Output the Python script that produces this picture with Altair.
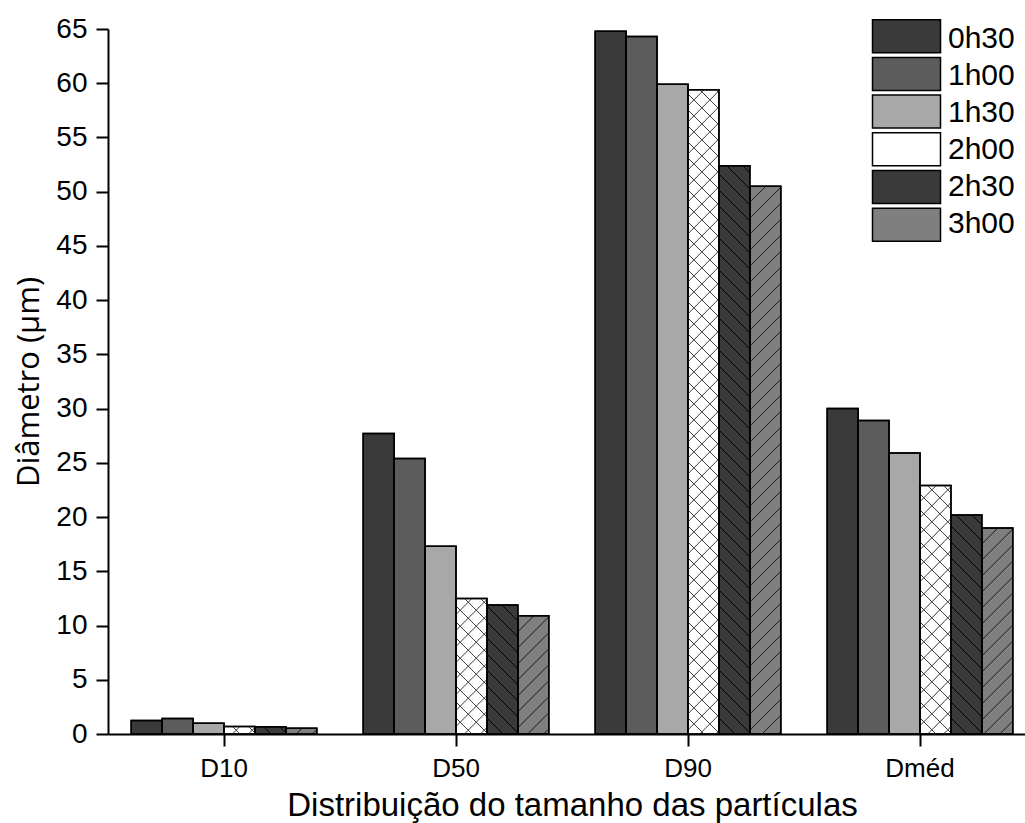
import altair as alt
import pandas as pd

# ---------------- data ----------------
categories = ["D10", "D50", "D90", "Dméd"]
series = ["0h30", "1h00", "1h30", "2h00", "2h30", "3h00"]
v_0h30 = [1.24, 27.7, 64.8, 30.0]
v_1h00 = [1.44, 25.4, 64.3, 28.9]
v_1h30 = [0.98, 17.3, 59.9, 25.9]
v_2h00 = [0.70, 12.5, 59.4, 22.9]
v_2h30 = [0.67, 11.9, 52.4, 20.2]
v_3h00 = [0.52, 10.9, 50.5, 19.0]
y_ticks = list(range(0, 70, 5))

# ---------------- styles ----------------
fills = ["#3a3a3a", "#5c5c5c", "#a8a8a8", "#ffffff", "#3a3a3a", "#7f7f7f"]
hatch_dirs = {"2h00": ["/", "\\"], "2h30": ["\\"], "3h00": ["/"]}
hatch_colors = {"2h00": "#3c3c3c", "2h30": "#000000", "3h00": "#1a1a1a"}

PLOT_W = 928      # x range of the band scale (overflows the window like the reference)
PLOT_H = 705
Y_MAX = 65
PAD_IN, PAD_OUT = 0.2, 0.1
FONT = "Liberation Sans"

values = [v_0h30, v_1h00, v_1h30, v_2h00, v_2h30, v_3h00]
rows = []
for s, vals in zip(series, values):
    for c, v in zip(categories, vals):
        rows.append({"category": c, "series": s, "value": v})
df = pd.DataFrame(rows)

# ---------------- hatch geometry (derived from the values via the band layout) ----------------
n = len(categories)
step = PLOT_W / (n - PAD_IN + 2 * PAD_OUT)
start = PAD_OUT * step
sub = step * (1 - PAD_IN) / len(series)
px_per_unit = PLOT_H / Y_MAX
SP = 16.0
hrows = []
for si, (s, vals) in enumerate(zip(series, values)):
    if s not in hatch_dirs:
        continue
    for ci, v in enumerate(vals):
        X0 = start + ci * step + si * sub
        X1 = X0 + sub
        H = v * px_per_unit
        for d in hatch_dirs[s]:
            if d == "/":
                c = X0 - H
                while c < X1:
                    xa, xb = max(X0, c), min(X1, c + H)
                    if xb - xa > 0.5:
                        hrows.append({"series": s, "x0": xa / step, "x1": xb / step,
                                      "y0": (xa - c) / px_per_unit, "y1": (xb - c) / px_per_unit})
                    c += SP
            else:
                c = X0
                while c < X1 + H:
                    xa, xb = max(X0, c - H), min(X1, c)
                    if xb - xa > 0.5:
                        hrows.append({"series": s, "x0": xa / step, "x1": xb / step,
                                      "y0": (c - xa) / px_per_unit, "y1": (c - xb) / px_per_unit})
                    c += SP
hdf = pd.DataFrame(hrows)

# ---------------- chart ----------------
x_scale = alt.Scale(domain=categories, range=[0, PLOT_W], paddingInner=PAD_IN, paddingOuter=PAD_OUT)
xo_scale = alt.Scale(domain=series, paddingInner=0, paddingOuter=0)
y_scale = alt.Scale(domain=[0, Y_MAX], nice=False, zero=True)

bars = alt.Chart(df).mark_bar(stroke="black", strokeWidth=1.5).encode(
    x=alt.X("category:N", scale=x_scale, sort=categories,
            axis=alt.Axis(title="Distribuição do tamanho das partículas", labelAngle=0,
                          labelFontSize=26, labelFont=FONT, labelColor="black", labelPadding=9,
                          tickSize=12, tickWidth=2, tickColor="black",
                          domainWidth=2, domainColor="black",
                          titleFont=FONT, titleFontSize=33, titleFontWeight="normal",
                          titleColor="black", titleBaseline="alphabetic", titleY=81)),
    xOffset=alt.XOffset("series:N", scale=xo_scale, sort=series),
    y=alt.Y("value:Q", scale=y_scale,
            axis=alt.Axis(values=y_ticks, title="Diâmetro (µm)", grid=False,
                          labelFontSize=28, labelFont=FONT, labelColor="black", labelPadding=9,
                          tickSize=12, tickWidth=2, tickColor="black",
                          domainWidth=2, domainColor="black",
                          titleFont="Open Sans", titleFontSize=31, titleFontWeight="normal",
                          titleColor="black", titleBaseline="alphabetic", titleX=-70)),
    fill=alt.Fill("series:N", scale=alt.Scale(domain=series, range=fills), legend=None),
)

hatch = alt.Chart(hdf).mark_rule(strokeWidth=1).encode(
    x=alt.X("x0:Q", scale=alt.Scale(domain=[0, PLOT_W / step], range=[0, PLOT_W], nice=False, zero=False), axis=None),
    x2="x1:Q",
    y=alt.Y("y0:Q", scale=alt.Scale(domain=[0, Y_MAX], nice=False), axis=None),
    y2="y1:Q",
    color=alt.Color("series:N", scale=alt.Scale(domain=list(hatch_colors.keys()),
                                                range=list(hatch_colors.values())), legend=None),
)

outline = alt.Chart(df).mark_bar(fillOpacity=0, stroke="black", strokeWidth=1.5).encode(
    x=alt.X("category:N", scale=x_scale, sort=categories, axis=None),
    xOffset=alt.XOffset("series:N", scale=xo_scale, sort=series),
    y=alt.Y("value:Q", scale=y_scale, axis=None),
)

# custom legend (rectangular swatches like the reference)
leg_df = pd.DataFrame({"series": series})
leg_y = alt.Y("series:N", sort=series, axis=None,
              scale=alt.Scale(domain=series, range=[-9.3, 212.2], paddingInner=0.125, paddingOuter=0))
leg_box = alt.Chart(leg_df).mark_bar(stroke="black", strokeWidth=1.5).encode(
    x=alt.value(764.5), x2=alt.value(832.5),
    y=leg_y,
    fill=alt.Fill("series:N", scale=alt.Scale(domain=series, range=fills), legend=None),
)
leg_lines = alt.Chart(leg_df).mark_text(align="left", baseline="middle", font=FONT,
                                        fontSize=30, color="black", dy=1).encode(
    x=alt.value(840), y=leg_y, text="series:N",
)

chart = alt.layer(bars, hatch, outline, leg_box, leg_lines).resolve_scale(
    x="independent", y="independent", fill="independent", color="independent"
).properties(
    width=917, height=705,
    autosize=alt.AutoSizeParams(type="none"),
    padding={"left": 108, "top": 29, "right": 0, "bottom": 89},
).configure_view(stroke=None).configure_axis(grid=False)

chart.save("out.html", embed_options={"renderer": "svg", "actions": False})
